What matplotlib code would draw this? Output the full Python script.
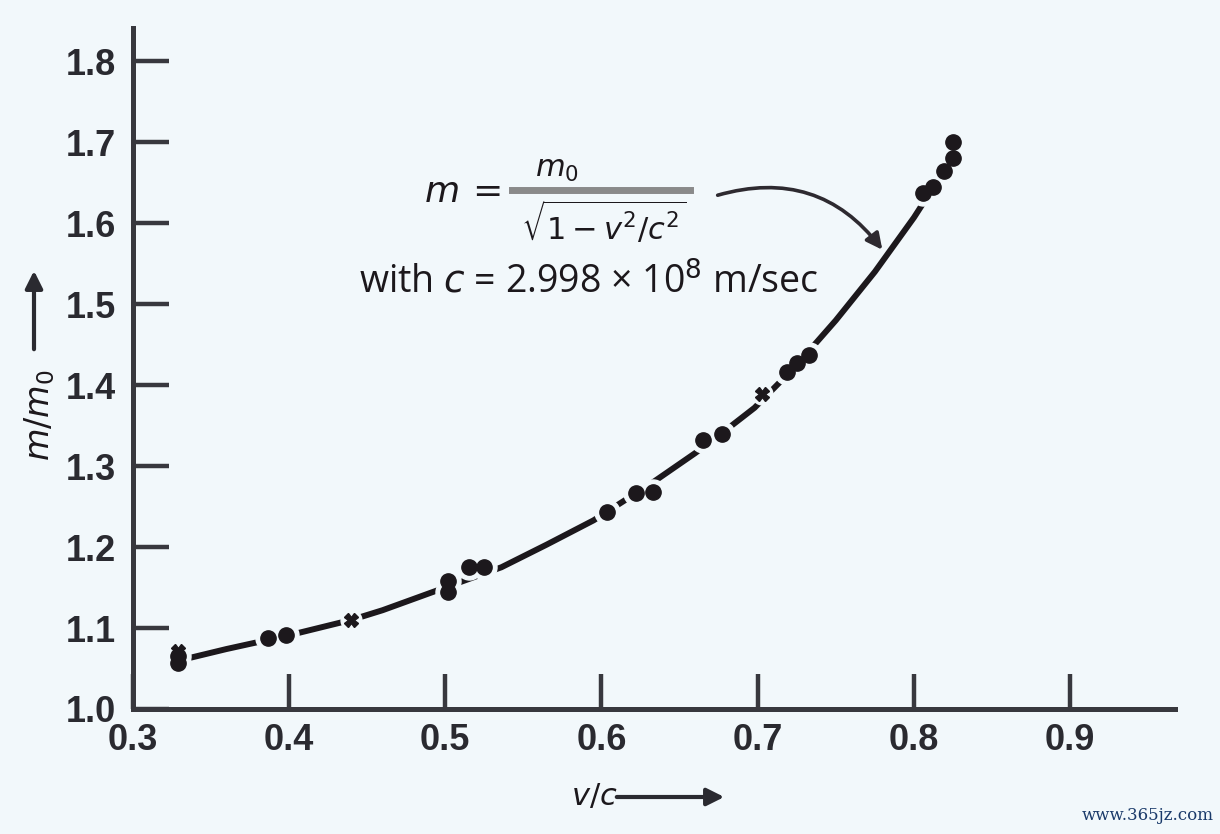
import matplotlib
matplotlib.use("Agg")
import matplotlib.pyplot as plt
from matplotlib.patches import FancyArrowPatch

# ---- data ----
curve_v = [0.33, 0.36, 0.40, 0.44, 0.46, 0.49, 0.50, 0.536, 0.565, 0.595, 0.633,
           0.66, 0.682, 0.698, 0.72, 0.735, 0.75, 0.775, 0.80, 0.815, 0.828]
curve_m = [1.060, 1.074, 1.091, 1.110, 1.122, 1.143, 1.150, 1.175, 1.203, 1.233, 1.280,
           1.316, 1.348, 1.372, 1.415, 1.447, 1.480, 1.540, 1.607, 1.652, 1.700]

dot_v = [0.329, 0.329, 0.387, 0.398, 0.502, 0.502, 0.515, 0.525, 0.6035, 0.622, 0.633,
         0.665, 0.677, 0.719, 0.725, 0.733, 0.806, 0.812, 0.819, 0.825, 0.825]
dot_m = [1.057, 1.066, 1.088, 1.091, 1.145, 1.158, 1.175, 1.175, 1.243, 1.267, 1.268,
         1.332, 1.340, 1.416, 1.427, 1.437, 1.637, 1.645, 1.665, 1.681, 1.700]

cross_v = [0.329, 0.44, 0.703]
cross_m = [1.072, 1.110, 1.389]

x_ticks = [0.3, 0.4, 0.5, 0.6, 0.7, 0.8, 0.9]
x_labels = ["0.3", "0.4", "0.5", "0.6", "0.7", "0.8", "0.9"]
y_ticks = [1.0, 1.1, 1.2, 1.3, 1.4, 1.5, 1.6, 1.7, 1.8]
y_labels = ["1.0", "1.1", "1.2", "1.3", "1.4", "1.5", "1.6", "1.7", "1.8"]

BG = "#f2f8fb"
INK = "#1c181c"
AX = "#38383e"

W, H = 1220, 834
fig = plt.figure(figsize=(W / 100, H / 100), dpi=100, facecolor=BG)

def fx(px):
    return px / W

def fy(py):
    return 1 - py / H

ax = fig.add_axes([fx(132.5), fy(709), (1175 - 132.5) / W, (709 - 28) / H])
ax.set_facecolor(BG)
ax.set_xlim(0.3, 0.967)
ax.set_ylim(1.0, 1.841)

for s in ["top", "right"]:
    ax.spines[s].set_visible(False)
for s in ["left", "bottom"]:
    ax.spines[s].set_linewidth(3.6)
    ax.spines[s].set_color(AX)

tick_font = dict(family=["Liberation Sans Narrow", "Liberation Sans", "DejaVu Sans"],
                 size=26, weight="bold")
ax.set_xticks(x_ticks)
ax.set_xticklabels(x_labels, fontdict=tick_font, color="#2a2a30")
ax.set_yticks(y_ticks)
ax.set_yticklabels(y_labels, fontdict=tick_font, color="#2a2a30")
ax.tick_params(axis="x", direction="in", length=25, width=3.2, color=AX, pad=10)
ax.tick_params(axis="y", direction="in", length=26, width=3.2, color=AX, pad=12)

# theory curve
ax.plot(curve_v, curve_m, color=INK, lw=4.3, solid_capstyle="round",
        solid_joinstyle="round", zorder=2)
# gaps around points
ax.plot(dot_v, dot_m, ls="none", marker="o", ms=18, mfc=BG, mec=BG, zorder=3)
ax.plot(cross_v, cross_m, ls="none", marker="o", ms=15, mfc=BG, mec=BG, zorder=3)
# data points
ax.plot(dot_v, dot_m, ls="none", marker="o", ms=11, mfc=INK, mec=INK, zorder=4)
ax.plot(cross_v, cross_m, ls="none", marker="X", ms=9.5, mfc=INK, mec=INK, zorder=4)

# axis labels
fig.text(fx(40), fy(415), r"$m/m_0$", rotation=90, ha="center", va="center",
         fontsize=24, color=INK, fontweight="bold")
fig.add_artist(FancyArrowPatch((fx(34), fy(352)), (fx(34), fy(268)),
                               transform=fig.transFigure, arrowstyle="-|>",
                               mutation_scale=26, lw=3, color="#2a2a30"))
fig.text(fx(594), fy(796), r"$v/c$", ha="center", va="center",
         fontsize=22, color=INK)
fig.add_artist(FancyArrowPatch((fx(614), fy(797)), (fx(727), fy(797)),
                               transform=fig.transFigure, arrowstyle="-|>",
                               mutation_scale=26, lw=3, color="#2a2a30"))

# formula annotation
fig.text(fx(462), fy(192), r"$m\,=$", ha="center", va="center", fontsize=26, color=INK)
fig.text(fx(557), fy(170), r"$m_0$", ha="center", va="center", fontsize=22, color=INK)
fig.add_artist(plt.Line2D([fx(512), fx(690)], [fy(190), fy(190)],
                          transform=fig.transFigure, lw=5, color="#8a8a8a"))
fig.text(fx(604), fy(222), r"$\sqrt{1-v^2/c^2}$", ha="center", va="center",
         fontsize=22, color=INK)
fig.text(fx(589), fy(283), "with $c$ = 2.998 × 10$^8$ m/sec", ha="center", va="center",
         fontsize=27, color=INK, family=["Open Sans", "DejaVu Sans"])
fig.add_artist(FancyArrowPatch((fx(715), fy(196)), (fx(884), fy(252)),
                               transform=fig.transFigure, arrowstyle="-|>",
                               connectionstyle="arc3,rad=-0.35",
                               mutation_scale=24, lw=2.6, color="#2e2a30"))

fig.text(fx(1214), fy(815), "www.365jz.com", ha="right", va="center",
         fontsize=12, color="#1a3a6a", family=["DejaVu Serif"])

fig.savefig("out.png", dpi=100, facecolor=BG)
